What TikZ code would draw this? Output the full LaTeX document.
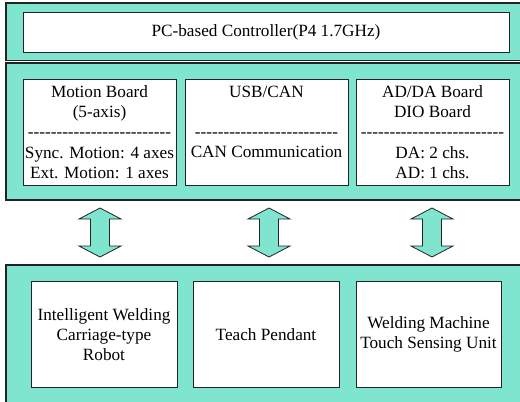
\documentclass[tikz,border=0pt]{standalone}
\usepackage{fontspec}
\setmainfont{Liberation Serif}
\usetikzlibrary{shadows}
\definecolor{tealfill}{RGB}{127,229,207}
\definecolor{edgecol}{RGB}{35,35,35}
\newcommand\hy{-\kern0pt}
\newcommand\hyfive{\hy\hy\hy\hy\hy}
\newcommand\dashrow{\hyfive\hyfive\hyfive\hyfive\hyfive}
\begin{document}
\begin{tikzpicture}[x=1pt,y=-1pt,
  band/.style={draw=edgecol, line width=1.3pt, fill=tealfill},
  box/.style={draw=edgecol, line width=0.8pt, fill=white, inner sep=0pt, outer sep=0pt,
    align=center, font=\fontsize{17.2}{20.3}\selectfont,
    drop shadow={shadow xshift=1pt, shadow yshift=-1pt, fill=black!75, opacity=1}},
  bigarrow/.style={draw=edgecol, line width=0.8pt, fill=tealfill, line join=miter},
  pics/dblarrow/.style={code={
    \draw[bigarrow] (0,-24.5) -- (21,-13.5) -- (9.5,-13.5) -- (9.5,13.5) -- (21,13.5)
      -- (0,24.5) -- (-21,13.5) -- (-9.5,13.5) -- (-9.5,-13.5) -- (-21,-13.5) -- cycle;}}
]
\useasboundingbox (0,0) rectangle (520,402);
\clip (0,0) rectangle (520,402);
\fill[white] (0,0) rectangle (520,402);

% bands
\draw[band] (530,3) -- (6,3) -- (6,60.5) -- (530,60.5);
\draw[band] (530,63) -- (6,63) -- (6,200) -- (530,200);
\draw[band] (530,265) -- (6,265) -- (6,410);
\fill[tealfill] (6.6,265.6) rectangle (530,410);

% top controller
\node[box, minimum width=486pt, minimum height=40pt] (pc) at (266,32) {PC-based Controller(P4 1.7GHz)};

% interface boards
\node[box, minimum width=153pt, minimum height=106pt] (mb) at (99.5,132)
  {Motion Board\\(5-axis)\\\dashrow\\Sync. Motion: 4 axes\\Ext. Motion: 1 axes};
\node[box, minimum width=163pt, minimum height=106pt] (usb) at (266.5,132)
  {USB/CAN\\\mbox{}\\\dashrow\\CAN Communication\\\mbox{}};
\node[box, minimum width=153pt, minimum height=106pt] (ad) at (432.5,132)
  {AD/DA Board\\DIO Board\\\dashrow\\DA: 2 chs.\\AD: 1 chs.};

% devices
\node[box, minimum width=146pt, minimum height=105.5pt] (rob) at (104,334.5)
  {Intelligent Welding\\Carriage-type\\Robot};
\node[box, minimum width=146pt, minimum height=105.5pt] (tp) at (266,334.5)
  {Teach Pendant};
\node[box, minimum width=145pt, minimum height=105.5pt] (ws) at (428.5,334.5)
  {Welding Machine\\Touch Sensing Unit};

% double arrows
\pic (a1) at (100,232.5) {dblarrow};
\pic (a2) at (269,232.5) {dblarrow};
\pic (a3) at (432,232.5) {dblarrow};
\end{tikzpicture}
\end{document}
